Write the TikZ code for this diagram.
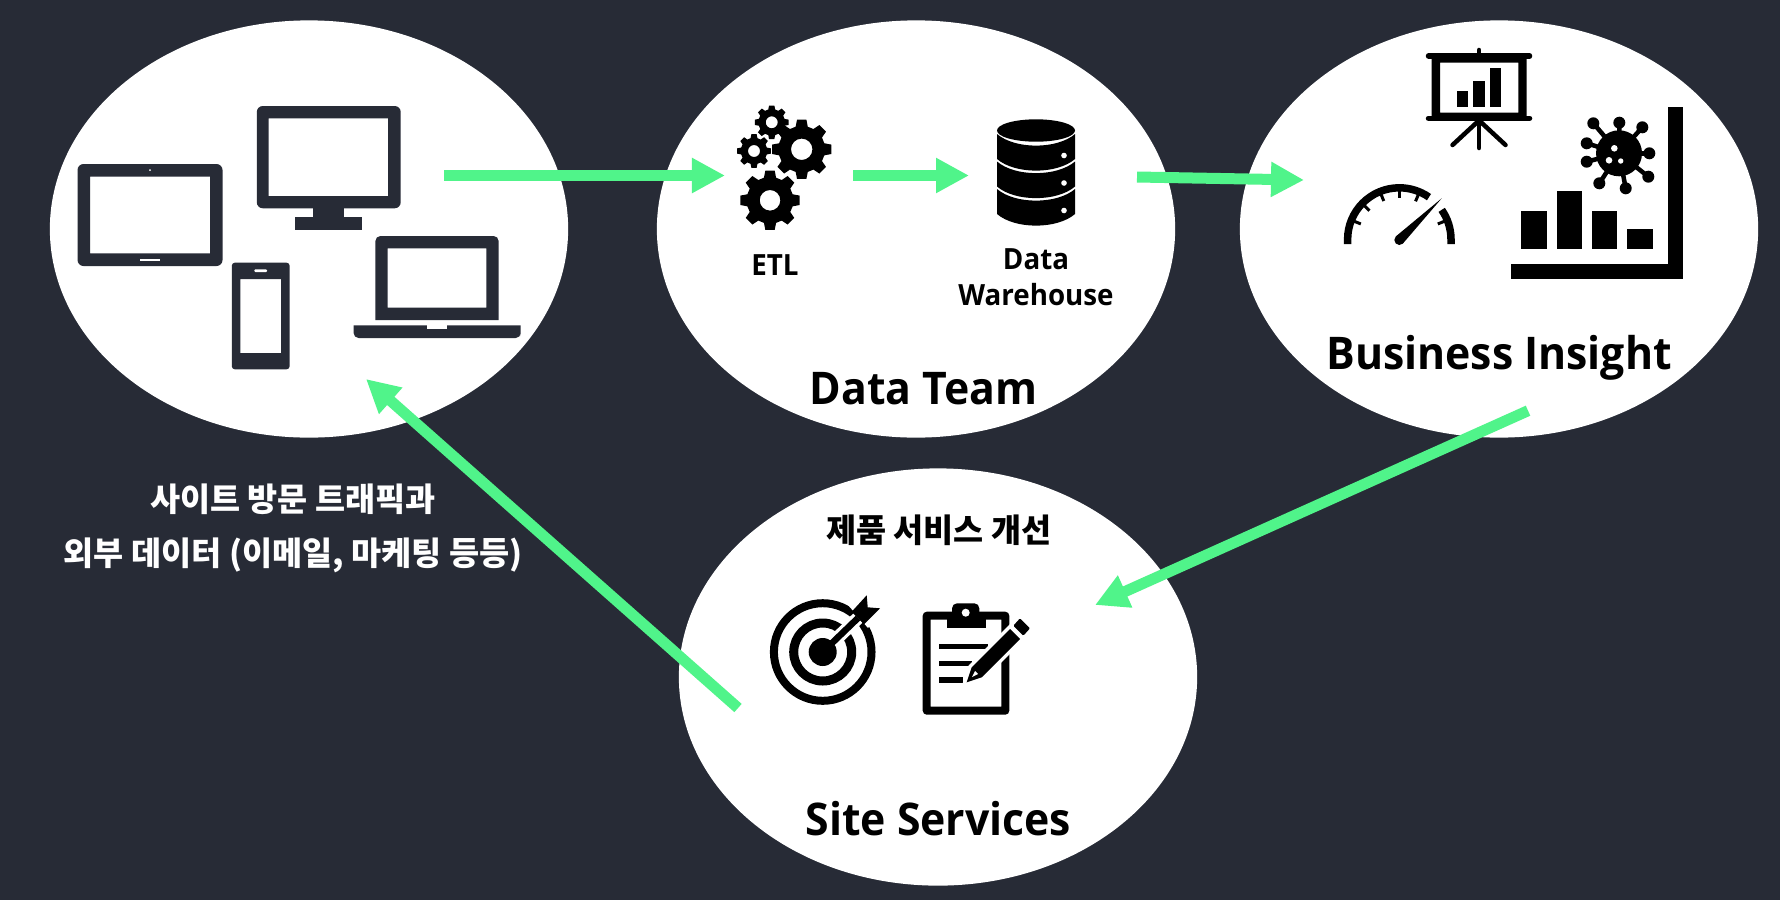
\documentclass[tikz,border=0pt]{standalone}
\usepackage{fontspec}
\setmainfont{Open Sans}[FakeStretch=0.95]
\newfontfamily\kofont{Noto Sans CJK KR}
\usetikzlibrary{arrows.meta,shapes.geometric}
\definecolor{panel}{HTML}{272B36}
\definecolor{flowgreen}{HTML}{50F48A}

\begin{document}
\begin{tikzpicture}[x=0.01cm,y=-0.01cm,
    bubble/.style ={ellipse, fill=white, minimum width=5.18cm, minimum height=4.17cm, inner sep=0pt},
    flow/.style ={-{Triangle[length=0.33cm,width=0.33cm]}, line width=0.11cm, flowgreen},
    device/.style ={fill=panel, even odd rule},
    icon/.style ={fill=black, even odd rule},
    spoke/.style ={draw=black, line cap=round},
    small/.style ={font=\fontsize{8.3}{10.2}\selectfont\bfseries, align=center, text=black},
    title/.style ={font=\fontsize{12.8}{15}\selectfont\bfseries, anchor=base, text=black},
    hangul/.style ={font=\kofont\fontsize{9.3}{15.3}\selectfont\bfseries, align=center}]
   \useasboundingbox (0,0) rectangle (1780,900);
   \fill[panel] (0,0) rectangle (1780,900);

   \node[bubble] (users)    at (309,229)  {};
   \node[bubble] (team)     at (916,229)  {};
   \node[bubble] (insight)  at (1499,229) {};
   \node[bubble] (services) at (938,677)  {};

   % devices
   \fill[device,rounded corners=0.06cm] (77.5,164) rectangle (222.5,266) [sharp corners] (90,176.7) rectangle (210,253.3);
   \fill[white] (150,170) circle[radius=1];
   \fill[white] (140,259) rectangle (159.6,260.5);
   \fill[device,rounded corners=0.06cm] (256.8,106) rectangle (400.7,208.3) [sharp corners] (268.6,118.3) rectangle (388.2,196);
   \fill[panel] (313,208) rectangle (343.6,217.3);
   \fill[panel] (295.4,217.3) rectangle (361.8,229.7);
   \fill[device,rounded corners=0.03cm] (231.8,262.7) rectangle (289.6,369.3) [sharp corners] (240.4,279) rectangle (281,353);
   \fill[white,rounded corners=0.01cm] (254.3,269.4) rectangle (267,272);
   \fill[device] (375.4,320) [rounded corners=0.05cm] -- (375.4,236) -- (498.6,236) -- (498.6,300) [sharp corners] -- (498.6,320) -- cycle (387.5,248.3) rectangle (486.4,307.7);
   \fill[panel] (353.6,325.3) [rounded corners=0.05cm] -- (353.6,338) -- (520.7,338) -- (520.7,331) [sharp corners] -- (520.7,325.3) -- cycle;
   \fill[white] (427,325) rectangle (447,329.3);

   % gears
   \foreach \gx/\gy/\gr/\gh in {770/200.3/30/10.3, 801.7/149.3/30/10.7, 771.7/122.3/17/6, 754/151/17/6} {
      \begin{scope}[shift={(\gx,\gy)}]
         \fill[icon] (-15:0.78*\gr) \foreach \a in {0,45,...,315} {
            -- (\a-15:0.78*\gr) -- (\a-9:\gr) -- (\a+9:\gr) -- (\a+15:0.78*\gr)
         } -- cycle (0,0) circle[radius=\gh];
      \end{scope}
   }

   % database
   \fill[black] (1036,130.5) ellipse[x radius=39, y radius=11.2];
   \foreach \dy in {134,161.5,189} {
      \fill[black] (997,\dy) .. controls (997+18,\dy+15.5) and (1075-18,\dy+15.5) .. (1075,\dy)
         -- (1075,\dy+25) .. controls (1075-18,\dy+40.5) and (997+18,\dy+40.5) .. (997,\dy+25) -- cycle;
      \fill[white] (1064,\dy+21.5) circle[radius=2.8];
   }

   % board
   \draw[spoke,line width=0.055cm] (1428.5,56) -- (1529.5,56);
   \draw[spoke,line width=0.055cm] (1428.5,118.3) -- (1529.5,118.3);
   \draw[spoke,line width=0.045cm] (1479,50) -- (1479,56);
   \draw[spoke,line width=0.045cm] (1479,120) -- (1479,148);
   \draw[spoke,line width=0.045cm] (1477.3,122) -- (1452.5,145);
   \draw[spoke,line width=0.045cm] (1480.7,122) -- (1505.5,145);
   \fill[icon] (1431.7,56) rectangle (1526.7,118.3) (1440,62.7) rectangle (1518.3,112.7);
   \fill[black] (1456.7,90.7) rectangle (1468,107.3);
   \fill[black] (1473.3,80.7) rectangle (1484.7,107.3);
   \fill[black] (1490,68.3) rectangle (1501.3,107.3);

   % gauge
   \draw[black,line width=0.075cm] (1347.6,244) -- (1347.6,239.5) arc[start angle=180, end angle=305, radius=51.7];
   \draw[black,line width=0.075cm] (1451,244) -- (1451,239.5) arc[start angle=0, end angle=-35, radius=51.7];
   \foreach \a in {158,136,112,90,67,22} {
      \draw[black,line width=0.03cm] ([shift={(-\a:49)}]1399.3,239.5) -- ([shift={(-\a:41.5)}]1399.3,239.5);
   }
   \fill[black] (1441.7,198.3) -- (1402.8,243.6) -- (1395.8,236.4) -- cycle;
   \fill[black] (1399.3,240) circle[radius=5];

   % chart
   \fill[black] (1667.7,107.3) rectangle (1683,279.3);
   \fill[black] (1511.3,264.3) rectangle (1683,279.3);
   \fill[black] (1521.3,211.3) rectangle (1546.7,249.3);
   \fill[black] (1556.7,191) rectangle (1582,249.3);
   \fill[black] (1592,211.3) rectangle (1617.3,249.3);
   \fill[black] (1627.3,229) rectangle (1652.7,249.3);

   % virus
   \foreach \bx/\by in {1593.3/123.3, 1619.3/122.7, 1642.3/127.3, 1649.3/153.3, 1648.3/176.7, 1625.7/188.3, 1599.3/183.3, 1586.7/161.7, 1586.7/143.3} {
      \draw[black,line width=0.045cm] (1619,153.3) -- (\bx,\by);
      \fill[black] (\bx,\by) circle[radius=6];
   }
   \fill[black] (1619,153.3) circle[radius=23];
   \fill[white] (1614.3,148.3) circle[radius=3.3];
   \fill[white] (1609,160.3) circle[radius=3.3];
   \fill[white] (1620.7,161) circle[radius=2.7];

   % target
   \draw[black,line width=0.08cm] (822.7,652) circle[radius=48.8];
   \draw[black,line width=0.09cm] (822.7,652) circle[radius=29];
   \draw[white,line width=0.13cm] (822.7,652) -- (858,618);
   \fill[white] (848,605) -- (866,590) -- (885,608) -- (868,628) -- cycle;
   \fill[black] (822.7,652) circle[radius=14];
   \draw[black,line width=0.065cm] (822.7,652) -- (858,618);
   \fill[black] (851.7,611.7) -- (866.7,595.3) -- (867.7,607.3) -- (880,608.3) -- (864,624.3) -- cycle;

   % clipboard
   \fill[icon,rounded corners=0.04cm] (922.7,611.7) rectangle (1009.3,714.7) [sharp corners] (930.7,619.7) rectangle (1001.3,706.7);
   \fill[black] (946.7,611.7) rectangle (985.7,628.3);
   \fill[black,rounded corners=0.05cm] (952,625) rectangle (979.3,603.3);
   \fill[white] (965.7,612.7) circle[radius=4];
   \fill[black] (939.3,644) rectangle (988,649.3);
   \fill[black] (939.3,660.7) rectangle (971.7,666);
   \fill[black] (939.3,677.3) rectangle (963.3,682.7);
   \draw[white,line width=0.07cm] (1010,629) -- (1020,639) -- (981.7,677.3) -- (966.7,682.3) -- (971.7,667.3) -- cycle;
   \fill[black] (1010,629) -- (1020,639) -- (981.7,677.3) -- (966.7,682.3) -- (971.7,667.3) -- cycle;
   \fill[white] (975,671) -- (978,674) -- (972,677) -- cycle;
   \fill[black,rounded corners=0.01cm] (1020,618.3) -- (1030,628.3) -- (1023.3,635.7) -- (1013.3,625.7) -- cycle;

   % labels
   \node[small] (etl) at (775,264.7) {ETL};
   \node[small] (warehouse) at (1036,277) {Data\\Warehouse};
   \node[title] (teamname) at (923.7,404) {Data Team};
   \node[title] (insightname) at (1499,369.3) {Business Insight};
   \node[title] (servicesname) at (938.3,835) {Site Services};
   \node[hangul,text=black] (improve) at (938.8,530) {제품 서비스 개선};
   \node[hangul,text=white] (traffic) at (293,528) {사이트 방문 트래픽과\\외부 데이터 (이메일, 마케팅 등등)};

   % arrows
   \coordinate (usersout) at (444,175.5);
   \coordinate (etlin) at (725,175.5);
   \coordinate (etlout) at (853,175.5);
   \coordinate (dwin) at (969,175.5);
   \coordinate (dwout) at (1137,177);
   \coordinate (insightin) at (1304,180);
   \coordinate (insightout) at (1528,410.7);
   \coordinate (servicesin) at (1095,605);
   \coordinate (servicesout) at (738,708);
   \coordinate (usersin) at (366,379);
   \draw[flow] (usersout) to (etlin);
   \draw[flow] (etlout) to (dwin);
   \draw[flow] (dwout) to (insightin);
   \draw[flow] (insightout) to (servicesin);
   \draw[flow] (servicesout) to (usersin);
 \end{tikzpicture}
\end{document}
